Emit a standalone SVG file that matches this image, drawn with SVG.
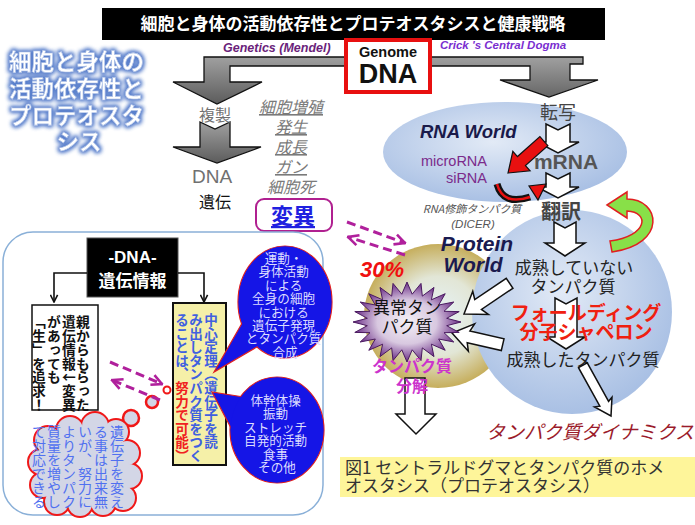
<svg xmlns="http://www.w3.org/2000/svg" width="695" height="525" viewBox="0 0 695 525">
<defs>
<style>
.jp{font-family:"Noto Sans CJK JP","Noto Sans",sans-serif;}
.en{font-family:"Liberation Sans",Arial,sans-serif;}
.c{text-anchor:middle;}
.v{writing-mode:vertical-rl;text-orientation:upright;}
.gi{font-family:"Noto Sans CJK JP",sans-serif;font-style:italic;fill:#7a7a7a;font-size:16px;text-decoration:underline;text-anchor:middle;}
.wa{fill:#fff;stroke:#111;stroke-width:1.5;stroke-linejoin:miter;}
.bub{fill:#1515E6;stroke:#E02020;stroke-width:1.2;}
.bubf{fill:#1515E6;stroke:none;}
.bt{font-family:"Noto Sans CJK JP",sans-serif;font-size:12.6px;fill:#DCDCFF;text-anchor:middle;}
.cl{fill:#D3D6E6;stroke:#F01818;stroke-width:4;}
.clf{fill:#D3D6E6;stroke:none;}
.ct{font-family:"Noto Sans CJK JP",sans-serif;font-size:14px;fill:#5070F0;}
.dash{fill:none;stroke:#B0209C;stroke-width:3;stroke-dasharray:9 5;}
.conn{fill:none;stroke:#111;stroke-width:1.6;}
</style>
<linearGradient id="gray" x1="0" y1="0" x2="0" y2="1">
<stop offset="0" stop-color="#a0a0a0"/><stop offset="1" stop-color="#5c5c5c"/>
</linearGradient>
<radialGradient id="blueG" cx="0.45" cy="0.4" r="0.6">
<stop offset="0" stop-color="#E2EAF6"/><stop offset="1" stop-color="#A9C0E4"/>
</radialGradient>
<radialGradient id="goldG" cx="0.5" cy="0.5" r="0.5">
<stop offset="0" stop-color="#E6F3F8"/><stop offset="0.55" stop-color="#E2E6D6"/><stop offset="1" stop-color="#C6AE5C"/>
</radialGradient>
<radialGradient id="starG" cx="0.5" cy="0.5" r="0.5">
<stop offset="0" stop-color="#F4F0F6"/><stop offset="0.55" stop-color="#D8C8E0"/><stop offset="1" stop-color="#6A2C86"/>
</radialGradient>
<filter id="glow" x="-20%" y="-30%" width="140%" height="160%">
<feMorphology in="SourceAlpha" operator="dilate" radius="1.2" result="d"/>
<feGaussianBlur in="d" stdDeviation="2.2" result="b"/>
<feFlood flood-color="#5A80CC"/>
<feComposite in2="b" operator="in" result="g"/>
<feMerge><feMergeNode in="g"/><feMergeNode in="g"/><feMergeNode in="SourceGraphic"/></feMerge>
</filter>
<marker id="ah" viewBox="0 0 10 10" refX="9" refY="5" markerWidth="9" markerHeight="9" markerUnits="userSpaceOnUse" orient="auto">
<path d="M1,1 L9,5 L1,9" fill="none" stroke="#111" stroke-width="1.8"/>
</marker>
<marker id="mh" viewBox="0 0 10 10" refX="9" refY="5" markerWidth="13" markerHeight="13" markerUnits="userSpaceOnUse" orient="auto">
<path d="M1,1 L9,5 L1,9" fill="none" stroke="#B0209C" stroke-width="2"/>
</marker>
</defs>

<rect width="695" height="525" fill="#fff"/>

<g id="title">
<rect x="102" y="8" width="503" height="32" fill="#000"/>
<text class="jp c" x="353" y="30" font-size="17" font-weight="bold" fill="#fff">細胞と身体の活動依存性とプロテオスタシスと健康戦略</text>
</g>

<g id="side-title" filter="url(#glow)">
<text class="jp c" x="79" font-size="22.5" font-weight="bold" fill="#fff" stroke="#A8BEE6" stroke-width="0.6">
<tspan x="79" y="70">細胞と身体の</tspan>
<tspan x="79" y="97">活動依存性と</tspan>
<tspan x="79" y="124">プロテオスタ</tspan>
<tspan x="79" y="150">シス</tspan>
</text>
</g>

<g id="gray-arrows">
<path d="M173,82 L204,82 L204,57 L583,57 L583,64 L570,64 L570,80 L598,80 L549,97 L500,80 L530,80 L530,66 L230,66 L230,82 L262,82 L217,104 Z" fill="url(#gray)" stroke="#111" stroke-width="1.3"/>
<path d="M200,122 L215,129 L230,122 L230,147 L261,147 L217,163 L173,147 L200,147 Z" fill="url(#gray)" stroke="#111" stroke-width="1.3"/>
</g>

<g id="labels-top">
<text class="en" x="223" y="52" font-size="12.5" font-weight="bold" font-style="italic" fill="#6B1F7B">Genetics (Mendel)</text>
<text class="en" x="440" y="49" font-size="11.5" font-weight="bold" font-style="italic" fill="#7A2ED0">Crick 's Central Dogma</text>
</g>

<g id="genome">
<rect x="346" y="40" width="84" height="52" fill="#fff" stroke="#E81010" stroke-width="4"/>
<text class="en c" x="388" y="57" font-size="14.5" font-weight="bold" fill="#111">Genome</text>
<text class="en c" x="388" y="83" font-size="27" font-weight="bold" fill="#111">DNA</text>
</g>

<g id="left-branch">
<text class="jp c" x="215" y="121" font-size="16" fill="#707070">複製</text>
<text class="en c" x="212" y="183" font-size="19" fill="#707070">DNA</text>
<text class="jp c" x="215" y="208" font-size="16" fill="#111">遺伝</text>
<text class="gi" x="291" y="113">細胞増殖</text>
<text class="gi" x="291" y="133">発生</text>
<text class="gi" x="291" y="153">成長</text>
<text class="gi" x="291" y="173">ガン</text>
<text class="gi" x="291" y="193" style="text-decoration:none">細胞死</text>
</g>

<g id="henni">
<rect x="256" y="199" width="76" height="32" rx="8" fill="#fff" stroke="#B02090" stroke-width="2"/>
<text class="jp c" x="293" y="224" font-size="22" font-weight="bold" fill="#2020E0" text-decoration="underline">変異</text>
</g>

<g id="protein-world">
<ellipse cx="438" cy="316" rx="74" ry="72" fill="url(#goldG)"/>
<ellipse cx="572" cy="312" rx="100" ry="102" fill="url(#blueG)"/>
</g>

<g id="rna-world">
<ellipse cx="505" cy="152" rx="122" ry="50" fill="url(#blueG)"/>
<text class="en" x="420" y="138" font-size="18.5" font-weight="bold" font-style="italic" fill="#1A1A4A">RNA World</text>
<text class="en" x="487" y="166" font-size="14.5" fill="#7B2B8B" text-anchor="end">microRNA</text>
<text class="en" x="487" y="183" font-size="14.5" fill="#7B2B8B" text-anchor="end">siRNA</text>
</g>

<g id="dogma">
<text class="jp c" x="558" y="119" font-size="18" fill="#444">転写</text>
<path class="wa" d="M546,124 L558,130 L570,124 L570,142 L579,142 L558,153 L537,142 L546,142 Z"/>
<text class="en c" x="566" y="169" font-size="21" font-weight="bold" fill="#555">mRNA</text>
<path class="wa" d="M546,173 L558,179 L570,173 L570,187 L579,187 L558,198 L537,187 L546,187 Z"/>
<text class="jp c" x="561" y="219" font-size="20" font-weight="bold" fill="#444">翻訳</text>
<path class="wa" d="M554,222 L565,228 L576,222 L576,243 L585,243 L565,256 L545,243 L554,243 Z"/>
<path class="wa" d="M555,298 L566,304 L577,298 L577,337 L585,337 L566,349 L547,337 L555,337 Z"/>
<path transform="translate(508,173) rotate(138.4)" d="M0,0 L-18,-13 L-18,-6 L-48,-6 L-48,6 L-18,6 L-18,13 Z" fill="#E81010" stroke="#111" stroke-width="1.2"/>
<path d="M497,184 Q503,206 530,197" fill="none" stroke="#111" stroke-width="7"/>
<path d="M497,184 Q503,206 530,197" fill="none" stroke="#E81010" stroke-width="2.5"/>
<path d="M546,184 L529,186 L538,200 Z" fill="#E81010" stroke="#111" stroke-width="1.2"/>
<path d="M607,205 L627,192 L627,199 C660,199 668,244 612,252 L610,241 C648,236 650,212 627,211 L627,218 Z" fill="#88E048" stroke="#E02020" stroke-width="1.5"/>
<text class="jp c" x="472" y="213" font-size="11" font-style="italic" fill="#555">RNA修飾タンパク質</text>
<text class="en c" x="473" y="228" font-size="11.5" font-style="italic" fill="#555">(DICER)</text>
<text class="en c" x="477" y="251" font-size="21" font-weight="bold" font-style="italic" fill="#1A1A50">Protein</text>
<text class="en c" x="473" y="272" font-size="21" font-weight="bold" font-style="italic" fill="#1A1A50">World</text>
<text class="jp c" x="574" y="274" font-size="17" fill="#222">成熟していない</text>
<text class="jp c" x="573" y="293" font-size="17" fill="#222">タンパク質</text>
<text class="jp c" x="586" y="320" font-size="19" font-weight="bold" fill="#F02010">フォールディング</text>
<text class="jp c" x="586" y="339" font-size="19" font-weight="bold" fill="#F02010">分子シャペロン</text>
<text class="jp c" x="583" y="366" font-size="17" fill="#222">成熟したタンパク質</text>
<path class="wa" transform="translate(464,314) rotate(146)" d="M0,0 L-20,-14 L-17,-6 L-55,-6 L-55,6 L-17,6 L-20,14 Z"/>
<path class="wa" transform="translate(452,333) rotate(193)" d="M0,0 L-20,-14 L-17,-6 L-52,-6 L-52,6 L-17,6 L-20,14 Z"/>
<path class="wa" transform="translate(611,416) rotate(61)" d="M0,0 L-16,-10 L-14,-5 L-58,-5 L-58,5 L-14,5 L-16,10 Z"/>
</g>

<g id="abnormal">
<polygon points="461,322 446.7,325.7 459.2,332.4 444,332.7 453.8,342 438.7,339 445.2,350.3 431.4,344.2 434,356.6 422.3,347.9 421,360.6 412.2,349.8 407,362 401.8,349.8 393,360.6 391.7,347.9 380,356.6 382.6,344.2 368.8,350.3 375.3,339 360.2,342 370,332.7 354.8,332.4 367.3,325.7 353,322 367.3,318.3 354.8,311.6 370,311.3 360.2,302 375.3,305 368.8,293.7 382.6,299.8 380,287.4 391.7,296.1 393,283.4 401.8,294.2 407,282 412.2,294.2 421,283.4 422.3,296.1 434,287.4 431.4,299.8 445.2,293.7 438.7,305 453.8,302 444,311.3 459.2,311.6 446.7,318.3" fill="url(#starG)" stroke="#4A1A60" stroke-width="1"/>
<text class="jp c" x="407" y="314" font-size="17" fill="#111">異常タン</text>
<text class="jp c" x="407" y="333" font-size="17" fill="#111">パク質</text>
<text class="en" x="360" y="277" font-size="22" font-weight="bold" font-style="italic" fill="#F01010">30%</text>
<path class="wa" d="M405,378 L425,378 L425,414 L436,414 L416,434 L396,414 L405,414 Z"/>
<text class="jp c" x="412" y="372" font-size="16" font-weight="bold" fill="#CC33CC">タンパク質</text>
<text class="jp c" x="412" y="392" font-size="16" font-weight="bold" fill="#CC33CC">分解</text>
</g>

<g id="dynamics">
<text class="jp" x="486" y="439" font-size="19" font-style="italic" fill="#9B1B2B">タンパク質ダイナミクス</text>
</g>

<g id="caption">
<rect x="340" y="457" width="355" height="40" fill="#FEF59A"/>
<text class="jp" x="345" y="474" font-size="17" fill="#333">図1 セントラルドグマとタンパク質のホメ</text>
<text class="jp" x="345" y="492" font-size="17" fill="#333">オスタシス（プロテオスタシス）</text>
</g>

<g id="left-frame">
<rect x="3" y="232" width="320" height="283" rx="30" fill="none" stroke="#8AB0D8" stroke-width="1.5"/>
</g>

<g id="dna-info">
<rect x="87" y="238" width="91" height="59" fill="#000" stroke="#555" stroke-width="1"/>
<text class="en c" x="132.5" y="263" font-size="17" font-weight="bold" fill="#fff">-DNA-</text>
<text class="jp c" x="132.5" y="287" font-size="17" font-weight="bold" fill="#fff">遺伝情報</text>
</g>

<g id="parent-box">
<rect x="32" y="305" width="66" height="105" fill="#fff" stroke="#111" stroke-width="1.5"/>
<text class="jp v" x="83" y="315" font-size="13.8" font-weight="bold" fill="#111">親からもらった</text>
<text class="jp v" x="69" y="315" font-size="13.8" font-weight="bold" fill="#111">遺伝情報←変異</text>
<text class="jp v" x="54" y="315" font-size="13.8" font-weight="bold" fill="#111">があっても</text>
<text class="jp v" x="39" y="315" font-size="13.8" font-weight="bold" fill="#111">「生」を追求！</text>
</g>

<g id="central-box">
<rect x="173" y="303" width="53" height="162" fill="#F5F0A8" stroke="#111" stroke-width="2"/>
<text class="jp v" x="211" y="313" font-size="13.6" font-weight="bold" fill="#4060E0">中心定理（遺伝子を読</text>
<text class="jp v" x="196" y="313" font-size="13.6" font-weight="bold" fill="#4060E0">み出しタンパク質をつく</text>
<text class="jp v" x="182" y="313" font-size="13.6" font-weight="bold" fill="#4060E0">ることは、<tspan fill="#F02020">努力で可能）</tspan></text>
</g>

<g id="bubble-1">
<ellipse class="bub" cx="285" cy="302" rx="47" ry="56"/>
<path class="bub" d="M245,318 L214,372 L262,344 Z"/>
<ellipse class="bubf" cx="285" cy="302" rx="46.4" ry="55.4"/>
<text class="bt">
<tspan x="285" y="263">運動・</tspan>
<tspan x="285" y="276.4">身体活動</tspan>
<tspan x="285" y="289.8">による</tspan>
<tspan x="285" y="303.2">全身の細胞</tspan>
<tspan x="285" y="316.6">における</tspan>
<tspan x="285" y="330">遺伝子発現</tspan>
<tspan x="285" y="343.4">とタンパク質</tspan>
<tspan x="285" y="356.8">合成</tspan>
</text>
</g>

<g id="bubble-2">
<ellipse class="bub" cx="277" cy="430" rx="47" ry="53"/>
<path class="bub" d="M250,398 L212,392 L240,445 Z"/>
<ellipse class="bubf" cx="277" cy="430" rx="46.4" ry="52.4"/>
<text class="bt">
<tspan x="277" y="405">体幹体操</tspan>
<tspan x="277" y="418.4">振動</tspan>
<tspan x="277" y="431.8">ストレッチ</tspan>
<tspan x="277" y="445.2">自発的活動</tspan>
<tspan x="277" y="458.6">食事</tspan>
<tspan x="277" y="472">その他</tspan>
</text>
</g>

<g id="thought-cloud">
<circle cx="167" cy="390" r="3.5" fill="#fff" stroke="#F01818" stroke-width="2"/>
<circle cx="152" cy="402" r="6" class="cl" style="stroke-width:2.5"/>
<circle cx="131" cy="418" r="8" class="cl" style="stroke-width:2.5"/>
<g class="cl">
<circle cx="48" cy="440" r="13"/><circle cx="70" cy="430" r="13"/><circle cx="95" cy="426" r="13"/><circle cx="116" cy="432" r="12"/>
<circle cx="127" cy="453" r="12"/><circle cx="129" cy="476" r="12"/><circle cx="123" cy="498" r="12"/><circle cx="103" cy="503" r="12"/>
<circle cx="80" cy="504" r="12"/><circle cx="57" cy="502" r="12"/><circle cx="43" cy="485" r="12"/><circle cx="41" cy="462" r="12"/>
</g>
<g class="clf">
<circle cx="48" cy="440" r="13"/><circle cx="70" cy="430" r="13"/><circle cx="95" cy="426" r="13"/><circle cx="116" cy="432" r="12"/>
<circle cx="127" cy="453" r="12"/><circle cx="129" cy="476" r="12"/><circle cx="123" cy="498" r="12"/><circle cx="103" cy="503" r="12"/>
<circle cx="80" cy="504" r="12"/><circle cx="57" cy="502" r="12"/><circle cx="43" cy="485" r="12"/><circle cx="41" cy="462" r="12"/>
<ellipse cx="85" cy="466" rx="44" ry="40"/>
</g>
<text class="ct v" x="117" y="425">遺伝子を変え</text>
<text class="ct v" x="101" y="425">る事は出来無</text>
<text class="ct v" x="85" y="425">いが、努力に</text>
<text class="ct v" x="69" y="425">よりタンパク</text>
<text class="ct v" x="54" y="425">質量を増やし</text>
<text class="ct v" x="39" y="425">て対応できる</text>
</g>

<g id="connectors">
<path class="conn" d="M87,273 L54,273 L54,302" marker-end="url(#ah)"/>
<path class="conn" d="M178,273 L204,273 L204,302" marker-end="url(#ah)"/>
<path class="dash" d="M347,222 L405,243" marker-end="url(#mh)"/>
<path class="dash" d="M405,255 L348,237" marker-end="url(#mh)"/>
<path class="dash" d="M110,362 L162,384" marker-end="url(#mh)"/>
<path class="dash" d="M160,400 L112,380" marker-end="url(#mh)"/>
</g>
</svg>
